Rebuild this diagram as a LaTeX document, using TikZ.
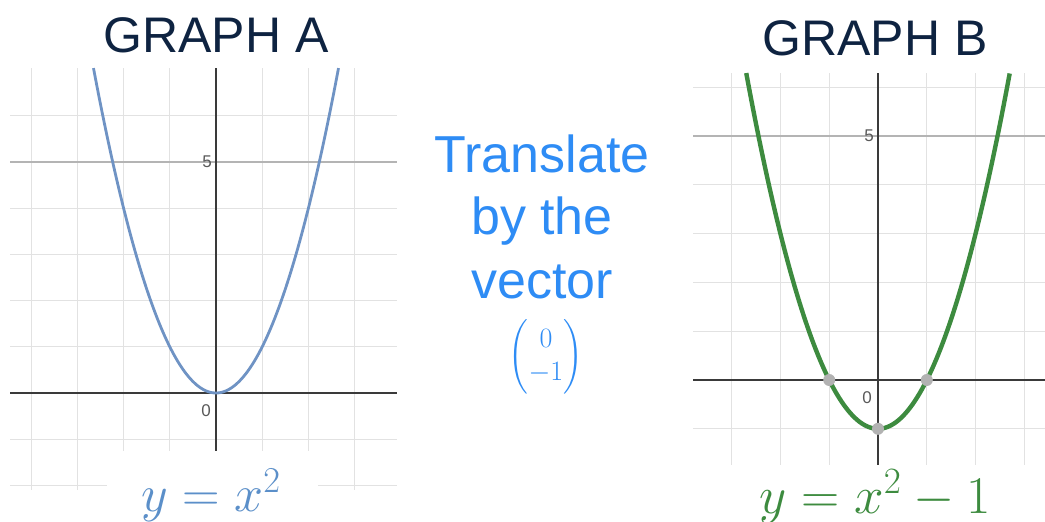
\RequirePackage{fix-cm}
\documentclass[tikz,border=0pt]{standalone}
\usepackage{fontspec}
\setmainfont{Liberation Sans}
\usepackage{amsmath}
\definecolor{navy}{HTML}{0E2341}
\definecolor{tblue}{HTML}{2E8CF5}
\definecolor{curveA}{HTML}{6F93C4}
\definecolor{labA}{HTML}{5B8FC9}
\definecolor{curveB}{HTML}{3D8B3F}
\definecolor{minorgrid}{HTML}{E2E2E2}
\definecolor{majorgrid}{HTML}{B4B4B4}
\definecolor{axisc}{HTML}{3A3A3A}
\tikzset{
  minor/.style={draw=minorgrid, line width=1.3pt},
  major/.style={draw=majorgrid, line width=1.4pt},
  axisline/.style={draw=axisc, line width=1.6pt},
  ticklab/.style={text=black!65, font=\fontsize{17}{17}\selectfont, inner sep=1pt},
  title/.style={text=navy, font=\fontsize{50}{50}\selectfont, inner sep=0pt},
  centretext/.style={text=tblue, font=\fontsize{52}{63}\selectfont, inner sep=0pt, anchor=base},
  dotpt/.style={circle, fill=black!30, inner sep=0pt, minimum size=12pt},
}
\begin{document}
\begin{tikzpicture}[x=1pt,y=-1pt]
\useasboundingbox (0,0) rectangle (1045,522);
% ---------- GRAPH A ----------
\foreach \gx in {31.2,77.4,123.6,169.8,262.2,308.4,354.6}
  \draw[minor] (\gx,68) -- (\gx,490);
\foreach \gy in {115.8,208.2,254.4,300.6,346.8,439.2,485.4}
  \draw[minor] (10,\gy) -- (397,\gy);
\draw[major] (10,162) -- (397,162);
\draw[axisline] (10,393) -- (397,393);
\draw[axisline] (216,68) -- (216,490);
\node[ticklab, anchor=east] (a5) at (213,162) {5};
\node[ticklab, anchor=east] (a0) at (212,411) {0};
\begin{scope}[shift={(216,393)}, x=46.2pt, y=46.2pt]
  \draw[curveA, line width=2.8pt, line join=round] plot[domain=-2.652:2.652, samples=120, smooth] (\x,{\x*\x});
\end{scope}
\node[fill=white, minimum width=211pt, minimum height=75pt, inner sep=0pt] (labAbox) at (212,488) {};
\node[text=labA, font=\fontsize{52}{52}\selectfont, anchor=base, inner sep=0pt] (labA) at (211,511) {$y=x^2$};
\node[title, anchor=base] (tA) at (216,52) {GRAPH A};
% ---------- GRAPH B ----------
\foreach \gx in {731.6,780.4,829.2,926.8,975.6,1024.4}
  \draw[minor] (\gx,73) -- (\gx,465);
\foreach \gy in {87.2,184.8,233.6,282.4,331.2,428.8}
  \draw[minor] (693,\gy) -- (1045,\gy);
\draw[major] (693,136) -- (1045,136);
\draw[axisline] (693,380) -- (1045,380);
\draw[axisline] (878,73) -- (878,465);
\node[ticklab, anchor=east] (b5) at (875,136) {5};
\node[ticklab, anchor=east] (b0) at (873,398) {0};
\begin{scope}[shift={(878,380)}, x=48.8pt, y=48.8pt]
  \draw[curveB, line width=4.4pt, line join=round] plot[domain=-2.7:2.7, samples=120, smooth] (\x,{\x*\x-1});
  \node[dotpt] (pl) at (-1,0) {};
  \node[dotpt] (pr) at (1,0) {};
  \node[dotpt] (pv) at (0,-1) {};
\end{scope}
\node[text=curveB, font=\fontsize{53}{53}\selectfont, anchor=base, inner sep=0pt] (labB) at (875,513) {$y=x^2-1$};
\node[title, anchor=base] (tB) at (875,56) {GRAPH B};
% ---------- Centre text ----------
\node[centretext] (t1) at (542,172) {Translate};
\node[centretext] (t2) at (542,234) {by the};
\node[centretext] (t3) at (542,298) {vector};
\node[text=tblue, font=\fontsize{28}{33}\selectfont, inner sep=0pt] (vec) at (546,357) {$\left(\begin{matrix}0\\-1\end{matrix}\right)$};
\end{tikzpicture}
\end{document}
